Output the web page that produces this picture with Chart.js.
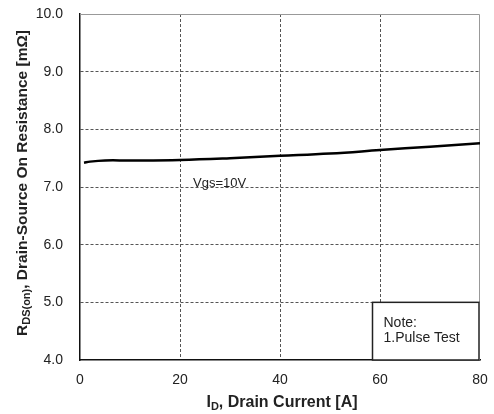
<!DOCTYPE html>
<html>
<head>
<meta charset="utf-8">
<script src="https://cdn.jsdelivr.net/npm/chart.js@4"></script>
<style>
  html, body { margin: 0; padding: 0; background: #fff; }
  #wrap { width: 494px; height: 414px; }
</style>
</head>
<body>
<div id="wrap"><canvas id="chartRds" width="494" height="414"></canvas></div>
<script>
// ---- data ----
const drainCurrent = [0.8, 2, 5, 10, 20, 30, 40, 50, 60, 70, 80];
const rdsOn        = [7.42, 7.44, 7.46, 7.46, 7.47, 7.50, 7.54, 7.58, 7.64, 7.70, 7.76];
const xTicks = [0, 20, 40, 60, 80];
const yTicks = [4, 5, 6, 7, 8, 9, 10];
const curveLabel = 'Vgs=10V';
const curveLabelAt = [22.6, 7.07];          // [A, mΩ]
const noteLines = ['Note:', '1.Pulse Test'];
const noteBox = [58.5, 80, 4.0, 5.0];        // x0, x1, y0, y1 in data units

const FONT = '"Liberation Sans", Arial, sans-serif';
const TXT = '#222';
const GRID = '#555';

// draws "main" + subscript + "rest" starting at x,y (baseline)
function subText(ctx, x, y, main, sub, rest, size) {
  ctx.font = 'bold ' + size + 'px ' + FONT;
  ctx.fillText(main, x, y);
  x += ctx.measureText(main).width;
  ctx.font = 'bold ' + Math.round(size * 0.7) + 'px ' + FONT;
  ctx.fillText(sub, x, y + 3);
  x += ctx.measureText(sub).width;
  ctx.font = 'bold ' + size + 'px ' + FONT;
  ctx.fillText(rest, x, y);
}
function subWidth(ctx, main, sub, rest, size) {
  ctx.font = 'bold ' + size + 'px ' + FONT;
  let w = ctx.measureText(main).width + ctx.measureText(rest).width;
  ctx.font = 'bold ' + Math.round(size * 0.7) + 'px ' + FONT;
  return w + ctx.measureText(sub).width;
}

const extras = {
  id: 'extras',
  beforeDatasetsDraw(chart) {
    const { ctx, chartArea: a } = chart;
    ctx.save();
    ctx.strokeStyle = '#999';
    ctx.lineWidth = 1;
    ctx.beginPath();
    ctx.moveTo(a.left, a.top + 0.5); ctx.lineTo(a.right - 0.5, a.top + 0.5); ctx.lineTo(a.right - 0.5, a.bottom);
    ctx.stroke();
    ctx.restore();
  },
  afterDraw(chart) {
    const { ctx, scales: { x, y } } = chart;
    ctx.save();
    ctx.fillStyle = TXT;

    // curve label
    ctx.font = '13px ' + FONT;
    ctx.textAlign = 'left';
    ctx.textBaseline = 'middle';
    ctx.fillText(curveLabel, x.getPixelForValue(curveLabelAt[0]), y.getPixelForValue(curveLabelAt[1]));

    // note box
    const bx0 = x.getPixelForValue(noteBox[0]), bx1 = x.getPixelForValue(noteBox[1]);
    const by0 = y.getPixelForValue(noteBox[2]), by1 = y.getPixelForValue(noteBox[3]);
    ctx.fillStyle = '#fff';
    ctx.fillRect(bx0, by1, bx1 - bx0, by0 - by1);
    ctx.strokeStyle = '#222';
    ctx.lineWidth = 1.5;
    ctx.strokeRect(bx0, by1, bx1 - bx0 - 1, by0 - by1);
    ctx.fillStyle = TXT;
    ctx.font = '14px ' + FONT;
    ctx.textBaseline = 'alphabetic';
    noteLines.forEach((t, i) => ctx.fillText(t, bx0 + 11, by1 + 25 + i * 15));

    // axis titles
    ctx.textAlign = 'left';
    const xw = subWidth(ctx, 'I', 'D', ', Drain Current [A]', 16);
    subText(ctx, (x.left + x.right) / 2 - xw / 2 + 2, 407, 'I', 'D', ', Drain Current [A]', 16);

    ctx.translate(27, 183);
    ctx.rotate(-Math.PI / 2);
    const yw = subWidth(ctx, 'R', 'DS(on)', ', Drain-Source On Resistance [mΩ]', 15.5);
    subText(ctx, -yw / 2, 0, 'R', 'DS(on)', ', Drain-Source On Resistance [mΩ]', 15.5);
    ctx.restore();
  }
};

const edgeGrid = (ctx) => (ctx.index === 0 || ctx.index === ctx.scale.ticks.length - 1) ? 'rgba(0,0,0,0)' : GRID;

new Chart(document.getElementById('chartRds'), {
  type: 'line',
  data: {
    datasets: [{
      data: drainCurrent.map((v, i) => ({ x: v, y: rdsOn[i] })),
      borderColor: '#000',
      borderWidth: 2.5,
      pointRadius: 0,
      tension: 0.4,
      fill: false
    }]
  },
  options: {
    responsive: false,
    animation: false,
    devicePixelRatio: 1,
    layout: { padding: { top: 14, right: 14, left: 0, bottom: 0 } },
    plugins: { legend: { display: false }, tooltip: { enabled: false } },
    scales: {
      x: {
        type: 'linear', min: xTicks[0], max: xTicks[xTicks.length - 1],
        afterBuildTicks: s => { s.ticks = xTicks.map(v => ({ value: v })); },
        afterFit: s => { s.height = 54; s.paddingLeft = 0; s.paddingRight = 0; },
        grid: { color: edgeGrid, lineWidth: 1, drawTicks: false },
        border: { display: true, color: '#111', width: 1.5, dash: [3, 2] },
        ticks: { color: TXT, font: { family: FONT, size: 14 }, padding: 12, maxRotation: 0 }
      },
      y: {
        type: 'linear', min: yTicks[0], max: yTicks[yTicks.length - 1],
        afterBuildTicks: s => { s.ticks = yTicks.map(v => ({ value: v })); },
        afterFit: s => { s.width = 80; s.paddingTop = 0; s.paddingBottom = 0; },
        grid: { color: edgeGrid, lineWidth: 1, drawTicks: false },
        border: { display: true, color: '#111', width: 1.5, dash: [3, 2] },
        ticks: { color: TXT, font: { family: FONT, size: 14 }, padding: 17, callback: v => Number(v).toFixed(1) }
      }
    }
  },
  plugins: [extras]
});
</script>
</body>
</html>
